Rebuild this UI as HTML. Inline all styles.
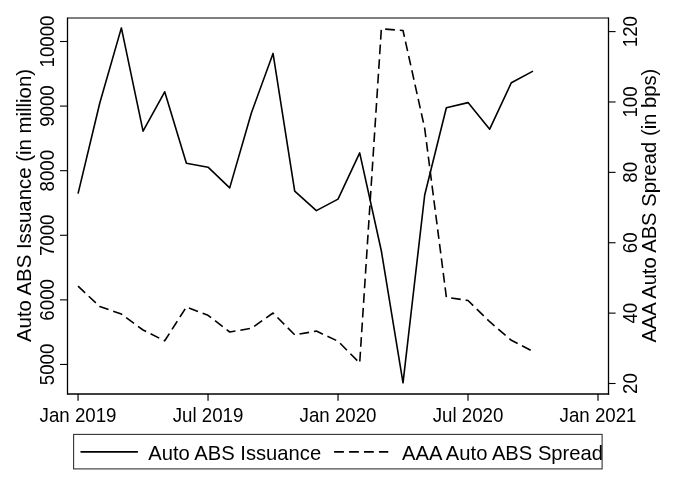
<!DOCTYPE html>
<html><head><meta charset="utf-8"><style>
html,body{margin:0;padding:0;background:#fff;}
svg{display:block;will-change:transform;}
text{font-family:"Liberation Sans",sans-serif;fill:#000;}
</style></head><body>
<svg width="676" height="493" viewBox="0 0 676 493">
<rect x="0" y="0" width="676" height="493" fill="#fff"/>
<line x1="67.5" y1="18.0" x2="608.5" y2="18.0" stroke="#000" stroke-width="1.2"/>
<line x1="67.5" y1="17.4" x2="67.5" y2="394.75" stroke="#000" stroke-width="1.3"/>
<line x1="608.5" y1="17.4" x2="608.5" y2="394.75" stroke="#000" stroke-width="1.3"/>
<line x1="67.5" y1="394.0" x2="609.15" y2="394.0" stroke="#000" stroke-width="1.5"/>
<line x1="60" y1="41.50" x2="67.5" y2="41.50" stroke="#000" stroke-width="1.1"/>
<text transform="translate(54.2,41.50) rotate(-90) scale(1,1.04)" text-anchor="middle" font-size="18.7">10000</text>
<line x1="60" y1="106.09" x2="67.5" y2="106.09" stroke="#000" stroke-width="1.1"/>
<text transform="translate(54.2,106.09) rotate(-90) scale(1,1.04)" text-anchor="middle" font-size="18.7">9000</text>
<line x1="60" y1="170.68" x2="67.5" y2="170.68" stroke="#000" stroke-width="1.1"/>
<text transform="translate(54.2,170.68) rotate(-90) scale(1,1.04)" text-anchor="middle" font-size="18.7">8000</text>
<line x1="60" y1="235.27" x2="67.5" y2="235.27" stroke="#000" stroke-width="1.1"/>
<text transform="translate(54.2,235.27) rotate(-90) scale(1,1.04)" text-anchor="middle" font-size="18.7">7000</text>
<line x1="60" y1="299.86" x2="67.5" y2="299.86" stroke="#000" stroke-width="1.1"/>
<text transform="translate(54.2,299.86) rotate(-90) scale(1,1.04)" text-anchor="middle" font-size="18.7">6000</text>
<line x1="60" y1="364.45" x2="67.5" y2="364.45" stroke="#000" stroke-width="1.1"/>
<text transform="translate(54.2,364.45) rotate(-90) scale(1,1.04)" text-anchor="middle" font-size="18.7">5000</text>
<line x1="608.5" y1="31.60" x2="615.6" y2="31.60" stroke="#000" stroke-width="1.1"/>
<text transform="translate(636.5,31.60) rotate(-90) scale(1,1.04)" text-anchor="middle" font-size="18.7">120</text>
<line x1="608.5" y1="101.98" x2="615.6" y2="101.98" stroke="#000" stroke-width="1.1"/>
<text transform="translate(636.5,101.98) rotate(-90) scale(1,1.04)" text-anchor="middle" font-size="18.7">100</text>
<line x1="608.5" y1="172.36" x2="615.6" y2="172.36" stroke="#000" stroke-width="1.1"/>
<text transform="translate(636.5,172.36) rotate(-90) scale(1,1.04)" text-anchor="middle" font-size="18.7">80</text>
<line x1="608.5" y1="242.74" x2="615.6" y2="242.74" stroke="#000" stroke-width="1.1"/>
<text transform="translate(636.5,242.74) rotate(-90) scale(1,1.04)" text-anchor="middle" font-size="18.7">60</text>
<line x1="608.5" y1="313.12" x2="615.6" y2="313.12" stroke="#000" stroke-width="1.1"/>
<text transform="translate(636.5,313.12) rotate(-90) scale(1,1.04)" text-anchor="middle" font-size="18.7">40</text>
<line x1="608.5" y1="383.50" x2="615.6" y2="383.50" stroke="#000" stroke-width="1.1"/>
<text transform="translate(636.5,383.50) rotate(-90) scale(1,1.04)" text-anchor="middle" font-size="18.7">20</text>
<line x1="78.05" y1="394.0" x2="78.05" y2="400.7" stroke="#000" stroke-width="1.2"/>
<text transform="translate(78.05,422) scale(1,1.04)" text-anchor="middle" font-size="18.7">Jan 2019</text>
<line x1="208.04" y1="394.0" x2="208.04" y2="400.7" stroke="#000" stroke-width="1.2"/>
<text transform="translate(208.04,422) scale(1,1.04)" text-anchor="middle" font-size="18.7">Jul 2019</text>
<line x1="338.03" y1="394.0" x2="338.03" y2="400.7" stroke="#000" stroke-width="1.2"/>
<text transform="translate(338.03,422) scale(1,1.04)" text-anchor="middle" font-size="18.7">Jan 2020</text>
<line x1="468.02" y1="394.0" x2="468.02" y2="400.7" stroke="#000" stroke-width="1.2"/>
<text transform="translate(468.02,422) scale(1,1.04)" text-anchor="middle" font-size="18.7">Jul 2020</text>
<line x1="598.01" y1="394.0" x2="598.01" y2="400.7" stroke="#000" stroke-width="1.2"/>
<text transform="translate(598.01,422) scale(1,1.04)" text-anchor="middle" font-size="18.7">Jan 2021</text>
<text transform="translate(31,205.5) rotate(-90) scale(1,1.02)" text-anchor="middle" font-size="20.4">Auto ABS Issuance (in million)</text>
<text transform="translate(656.3,205.7) rotate(-90) scale(1,1.02)" text-anchor="middle" font-size="20.2">AAA Auto ABS Spread (in bps)</text>
<polyline points="78.05,193.60 99.72,103.30 121.38,27.90 143.05,131.10 164.71,91.80 186.38,163.30 208.04,167.20 229.70,187.90 251.37,113.00 273.03,53.40 294.70,191.10 316.37,210.60 338.03,199.10 359.69,152.90 381.36,251.00 403.02,382.80 424.69,195.00 446.36,107.70 468.02,102.60 489.69,129.20 511.35,82.70 533.01,71.10" fill="none" stroke="#000" stroke-width="1.6" stroke-linejoin="round"/>
<polyline points="78.05,286.20 99.72,306.50 121.38,314.10 143.05,330.00 164.71,340.80 186.38,307.00 208.04,315.30 229.70,332.00 251.37,328.30 273.03,313.00 294.70,334.80 316.37,331.10 338.03,341.20 359.69,363.00 381.36,28.80 403.02,30.50 424.69,128.30 446.36,297.20 468.02,300.50 489.69,321.70 511.35,340.30 533.01,351.50" fill="none" stroke="#000" stroke-width="1.6" stroke-dasharray="9.7 4.96" stroke-linejoin="round"/>
<rect x="73.6" y="434.4" width="528.5" height="34.5" fill="#fff" stroke="#333" stroke-width="1.1"/>
<line x1="80.5" y1="451.9" x2="137.9" y2="451.9" stroke="#000" stroke-width="1.9"/>
<text transform="translate(148.3,459.6) scale(1,1.04)" font-size="20.2">Auto ABS Issuance</text>
<line x1="334.1" y1="451.9" x2="388.3" y2="451.9" stroke="#000" stroke-width="1.9" stroke-dasharray="9.8 5.15"/>
<text transform="translate(402.1,459.6) scale(1,1.04)" font-size="20.2">AAA Auto ABS Spread</text>
</svg>
</body></html>
